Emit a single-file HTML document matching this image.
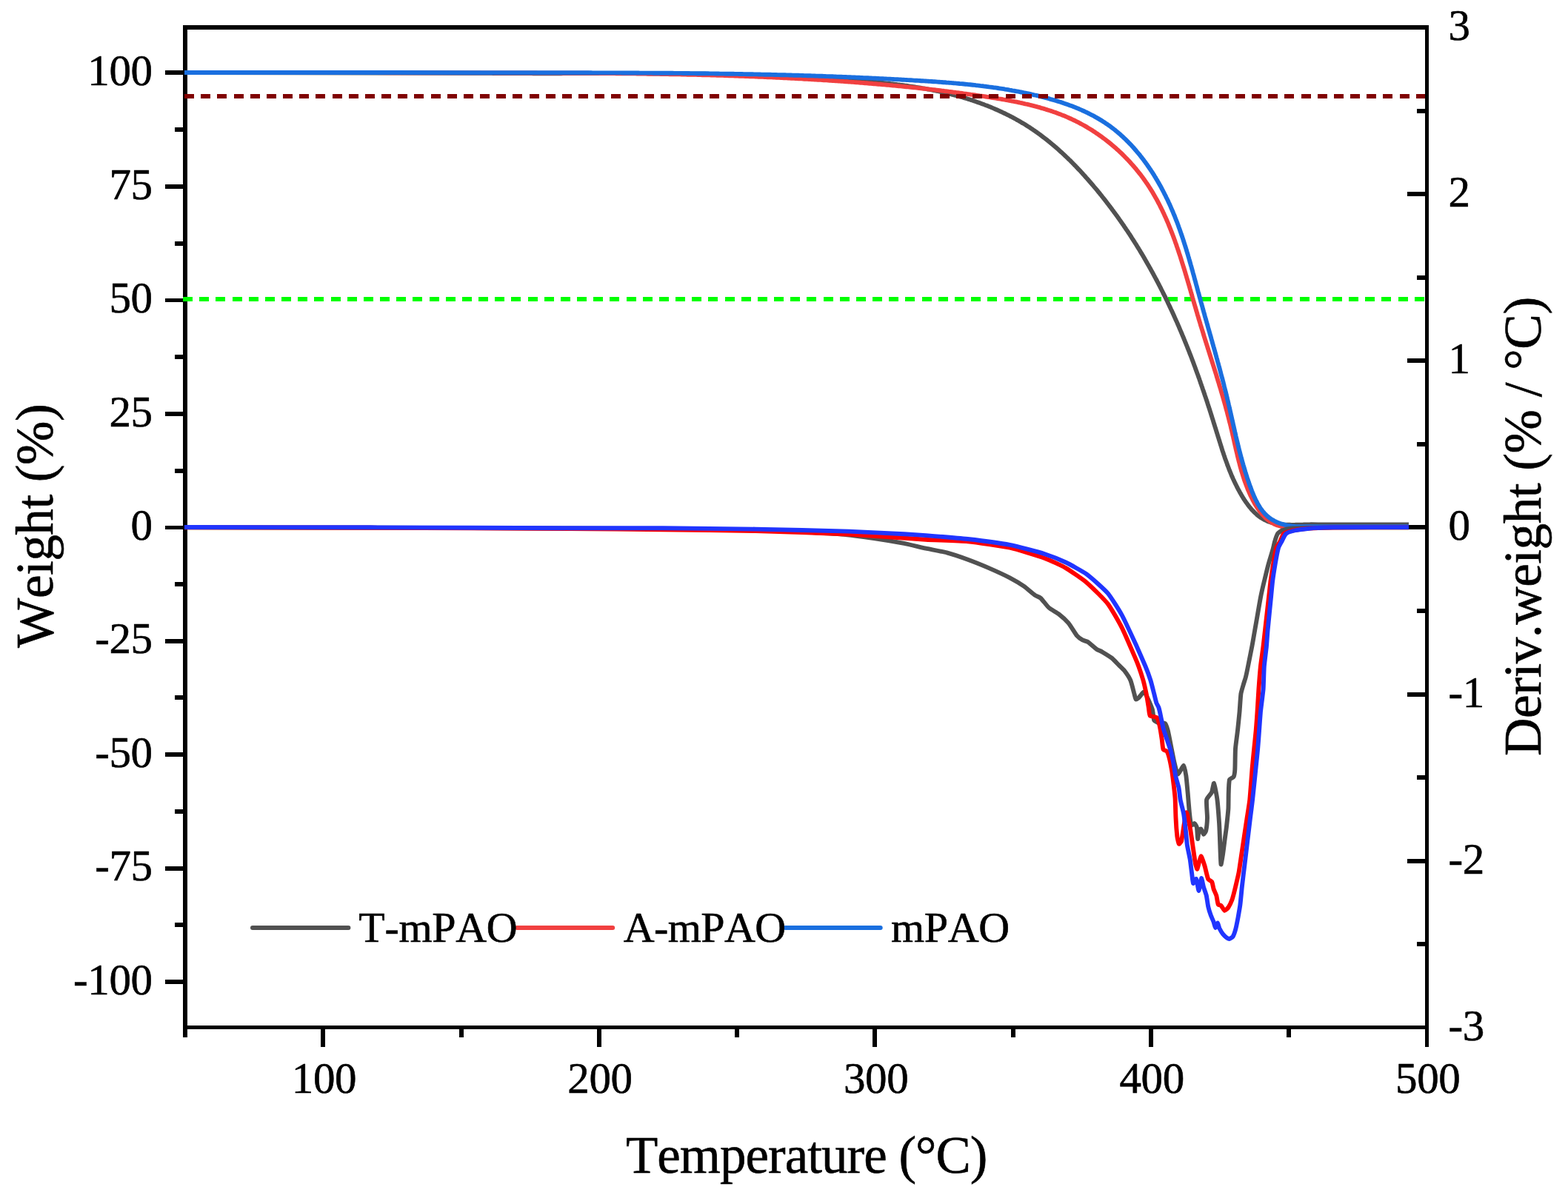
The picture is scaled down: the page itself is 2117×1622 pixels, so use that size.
<!DOCTYPE html>
<html lang="en"><head><meta charset="utf-8"><title>TGA / DTG curves</title>
<style>html,body{margin:0;padding:0;background:#fff;}body{width:2117px;height:1622px;overflow:hidden;}svg{display:block;}</style></head>
<body>
<svg width="2117" height="1622" viewBox="0 0 2117 1622" style="display:block">
<rect width="2117" height="1622" fill="#fff"/>
<g fill="#000" shape-rendering="crispEdges">
<rect x="247" y="34" width="6" height="1367"/>
<rect x="1924" y="34" width="5" height="1380"/>
<rect x="247" y="34" width="1682" height="6"/>
<rect x="247" y="1385" width="1682" height="5"/>
<rect x="223" y="1323" width="24" height="6"/>
<rect x="223" y="1170" width="24" height="6"/>
<rect x="223" y="1016" width="24" height="6"/>
<rect x="223" y="863" width="24" height="6"/>
<rect x="223" y="710" width="24" height="5"/>
<rect x="223" y="556" width="24" height="6"/>
<rect x="223" y="403" width="24" height="5"/>
<rect x="223" y="249" width="24" height="6"/>
<rect x="223" y="95" width="24" height="6"/>
<rect x="236" y="1246" width="11" height="6"/>
<rect x="236" y="1093" width="11" height="6"/>
<rect x="236" y="939" width="11" height="6"/>
<rect x="236" y="786" width="11" height="6"/>
<rect x="236" y="633" width="11" height="6"/>
<rect x="236" y="479" width="11" height="6"/>
<rect x="236" y="326" width="11" height="6"/>
<rect x="236" y="172" width="11" height="6"/>
<rect x="1900" y="1160" width="24" height="6"/>
<rect x="1900" y="935" width="24" height="6"/>
<rect x="1900" y="709" width="24" height="6"/>
<rect x="1900" y="484" width="24" height="6"/>
<rect x="1900" y="259" width="24" height="6"/>
<rect x="1913" y="1272" width="11" height="6"/>
<rect x="1913" y="1047" width="11" height="6"/>
<rect x="1913" y="822" width="11" height="6"/>
<rect x="1913" y="597" width="11" height="6"/>
<rect x="1913" y="372" width="11" height="6"/>
<rect x="1913" y="147" width="11" height="6"/>
<rect x="433" y="1390" width="6" height="24"/>
<rect x="806" y="1390" width="6" height="24"/>
<rect x="1178" y="1390" width="6" height="24"/>
<rect x="1551" y="1390" width="6" height="24"/>
<rect x="620" y="1390" width="6" height="11"/>
<rect x="992" y="1390" width="6" height="11"/>
<rect x="1365" y="1390" width="6" height="11"/>
<rect x="1737" y="1390" width="6" height="11"/>
</g>
<line x1="247.0" y1="404.0" x2="1924" y2="404.0" stroke="#00FF00" stroke-width="6" stroke-dasharray="13 9.17" shape-rendering="crispEdges"/>
<g fill="none" stroke-width="5.9" stroke-linejoin="round" stroke-linecap="butt">
<path stroke="#515151" d="M249.0,98.0L400.0,98.2L529.0,98.5L640.0,98.8L642.0,98.8L644.0,98.8L646.0,98.8L648.0,98.8L650.0,98.9L652.0,98.9L654.0,98.9L656.0,98.9L658.0,98.9L660.0,98.9L662.0,98.9L664.0,98.9L666.0,99.0L668.0,99.0L670.0,99.0L672.0,99.0L674.0,99.0L676.0,99.0L678.0,99.0L680.0,99.0L682.0,99.0L684.0,99.1L686.0,99.1L688.0,99.1L690.0,99.1L692.0,99.1L694.0,99.1L696.0,99.1L698.0,99.1L700.0,99.1L702.0,99.1L704.0,99.1L706.0,99.1L708.0,99.1L710.0,99.1L712.0,99.1L714.0,99.1L716.0,99.1L718.0,99.1L720.0,99.2L722.0,99.2L724.0,99.2L726.0,99.2L728.0,99.2L730.0,99.2L732.0,99.2L734.0,99.2L736.0,99.2L738.0,99.2L740.0,99.2L742.0,99.2L744.0,99.2L746.0,99.2L748.0,99.2L750.0,99.2L752.0,99.2L754.0,99.2L756.0,99.2L758.0,99.2L760.0,99.1L762.0,99.1L764.0,99.1L766.0,99.1L768.0,99.1L770.0,99.1L772.0,99.1L774.0,99.1L776.0,99.1L778.0,99.1L780.0,99.1L782.0,99.1L784.0,99.1L786.0,99.1L788.0,99.1L790.0,99.1L792.0,99.1L794.0,99.1L796.0,99.1L798.0,99.1L800.0,99.1L802.0,99.1L804.0,99.1L806.0,99.1L808.0,99.1L810.0,99.1L812.0,99.1L814.0,99.1L816.0,99.1L818.0,99.1L820.0,99.1L822.1,99.1L824.1,99.1L826.1,99.1L828.1,99.1L830.1,99.1L832.1,99.1L834.1,99.1L836.1,99.1L838.1,99.1L840.1,99.1L842.1,99.1L844.1,99.1L846.1,99.1L848.1,99.1L850.1,99.1L852.1,99.1L854.1,99.1L856.1,99.1L858.1,99.1L860.1,99.1L862.1,99.1L864.1,99.1L866.1,99.1L868.1,99.1L870.1,99.1L872.1,99.1L874.1,99.1L876.1,99.2L878.1,99.2L880.1,99.2L882.1,99.2L884.1,99.2L886.1,99.2L888.1,99.2L890.1,99.2L892.1,99.2L894.1,99.2L896.1,99.2L898.1,99.3L900.1,99.3L902.1,99.3L904.1,99.3L906.1,99.3L908.1,99.3L910.1,99.3L912.1,99.4L914.1,99.4L916.1,99.4L918.1,99.4L920.1,99.4L922.1,99.5L924.1,99.5L926.1,99.5L928.1,99.5L930.1,99.5L932.1,99.6L934.1,99.6L936.1,99.6L938.1,99.6L940.1,99.7L942.1,99.7L944.1,99.7L946.1,99.7L948.1,99.8L950.1,99.8L952.1,99.8L954.1,99.9L956.1,99.9L958.1,99.9L960.1,100.0L962.1,100.0L964.1,100.0L966.1,100.1L968.1,100.1L970.1,100.1L972.1,100.2L974.1,100.2L976.1,100.3L978.1,100.3L980.1,100.3L982.1,100.4L984.1,100.4L986.1,100.5L988.1,100.5L990.1,100.6L992.1,100.6L994.1,100.7L996.1,100.7L998.1,100.8L1000.1,100.8L1002.1,100.9L1004.1,100.9L1006.1,101.0L1008.1,101.0L1010.1,101.1L1012.1,101.1L1014.1,101.2L1016.1,101.3L1018.1,101.3L1020.1,101.4L1022.1,101.5L1024.1,101.5L1026.1,101.6L1028.1,101.6L1030.1,101.7L1032.1,101.8L1034.1,101.9L1036.1,101.9L1038.1,102.0L1040.1,102.1L1042.1,102.1L1044.1,102.2L1046.1,102.3L1048.1,102.4L1050.1,102.5L1052.1,102.5L1054.1,102.6L1056.1,102.7L1058.1,102.8L1060.1,102.9L1062.1,103.0L1064.1,103.1L1066.1,103.2L1068.1,103.2L1070.1,103.3L1072.0,103.4L1074.0,103.5L1076.0,103.6L1078.0,103.7L1080.0,103.8L1082.0,103.9L1084.0,104.0L1086.0,104.1L1088.0,104.2L1090.0,104.3L1092.0,104.5L1094.0,104.6L1096.0,104.7L1098.0,104.8L1100.0,104.9L1102.0,105.0L1104.0,105.1L1106.0,105.3L1108.0,105.4L1109.9,105.5L1111.9,105.6L1113.9,105.7L1115.9,105.9L1117.9,106.0L1119.9,106.1L1121.9,106.3L1123.9,106.4L1125.9,106.5L1127.9,106.7L1129.9,106.8L1131.9,106.9L1133.9,107.1L1135.9,107.2L1137.8,107.4L1139.8,107.5L1141.8,107.7L1143.8,107.8L1145.8,108.0L1147.8,108.1L1149.8,108.3L1151.8,108.4L1153.8,108.6L1155.8,108.7L1157.8,108.9L1159.7,109.1L1161.7,109.2L1163.7,109.4L1165.7,109.6L1167.7,109.7L1169.7,109.9L1171.7,110.1L1173.7,110.3L1175.7,110.4L1177.7,110.6L1179.6,110.8L1181.6,111.0L1183.6,111.2L1185.6,111.4L1187.6,111.6L1189.6,111.8L1191.6,112.0L1193.6,112.2L1195.5,112.4L1197.5,112.6L1199.5,112.8L1201.5,113.0L1203.5,113.3L1205.5,113.5L1207.4,113.7L1209.4,113.9L1211.4,114.2L1213.4,114.4L1215.4,114.7L1217.4,114.9L1219.3,115.2L1221.3,115.5L1223.3,115.7L1225.3,116.0L1227.2,116.3L1229.2,116.6L1231.2,116.9L1233.2,117.2L1235.1,117.5L1237.1,117.8L1239.1,118.1L1241.1,118.4L1243.0,118.7L1245.0,119.1L1247.0,119.4L1248.9,119.7L1250.9,120.1L1252.9,120.5L1254.8,120.8L1256.8,121.2L1258.8,121.6L1260.7,122.0L1262.7,122.4L1264.6,122.8L1266.6,123.2L1268.6,123.6L1270.5,124.0L1272.5,124.5L1274.4,124.9L1276.4,125.4L1278.3,125.9L1280.3,126.3L1282.2,126.8L1284.2,127.3L1286.1,127.8L1288.1,128.3L1290.0,128.8L1292.0,129.3L1293.9,129.9L1295.8,130.4L1297.8,131.0L1299.7,131.5L1301.6,132.1L1303.6,132.7L1305.5,133.3L1307.4,133.9L1309.4,134.5L1311.3,135.1L1313.2,135.8L1315.1,136.4L1317.0,137.0L1318.9,137.7L1320.8,138.4L1322.7,139.0L1324.6,139.7L1326.5,140.4L1328.4,141.1L1330.3,141.9L1332.1,142.6L1334.0,143.3L1335.9,144.1L1337.8,144.8L1339.6,145.6L1341.5,146.4L1343.3,147.2L1345.2,148.0L1347.0,148.8L1348.8,149.6L1350.7,150.5L1352.5,151.3L1354.3,152.2L1356.1,153.0L1357.9,153.9L1359.7,154.8L1361.5,155.7L1363.3,156.6L1365.1,157.5L1366.8,158.4L1368.6,159.4L1370.4,160.3L1372.1,161.3L1373.9,162.3L1375.6,163.3L1377.3,164.2L1379.0,165.3L1380.8,166.3L1382.5,167.3L1384.2,168.3L1385.9,169.4L1387.5,170.5L1389.2,171.5L1390.9,172.6L1392.5,173.7L1394.2,174.8L1395.8,176.0L1397.5,177.1L1399.1,178.2L1400.7,179.4L1402.3,180.5L1403.9,181.7L1405.5,182.9L1407.1,184.1L1408.7,185.3L1410.3,186.5L1411.8,187.7L1413.4,188.9L1415.0,190.2L1416.5,191.4L1418.1,192.7L1419.6,194.0L1421.1,195.2L1422.6,196.5L1424.1,197.8L1425.7,199.1L1427.2,200.4L1428.6,201.7L1430.1,203.1L1431.6,204.4L1433.1,205.7L1434.6,207.1L1436.0,208.4L1437.5,209.8L1438.9,211.2L1440.4,212.6L1441.8,213.9L1443.2,215.3L1444.7,216.7L1446.1,218.1L1447.5,219.5L1448.9,221.0L1450.3,222.4L1451.7,223.8L1453.1,225.3L1454.5,226.7L1455.8,228.2L1457.2,229.6L1458.6,231.1L1459.9,232.5L1461.3,234.0L1462.6,235.5L1464.0,237.0L1465.3,238.5L1466.6,240.0L1468.0,241.5L1469.3,243.0L1470.6,244.5L1471.9,246.0L1473.2,247.5L1474.5,249.0L1475.8,250.5L1477.1,252.1L1478.4,253.6L1479.7,255.1L1481.0,256.7L1482.2,258.2L1483.5,259.8L1484.8,261.3L1486.0,262.9L1487.3,264.4L1488.5,266.0L1489.8,267.6L1491.0,269.1L1492.2,270.7L1493.5,272.3L1494.7,273.9L1495.9,275.5L1497.1,277.1L1498.3,278.7L1499.5,280.2L1500.7,281.8L1501.9,283.5L1503.1,285.1L1504.3,286.7L1505.5,288.3L1506.7,289.9L1507.9,291.5L1509.0,293.1L1510.2,294.8L1511.3,296.4L1512.5,298.0L1513.6,299.7L1514.8,301.3L1515.9,303.0L1517.1,304.6L1518.2,306.3L1519.3,307.9L1520.4,309.6L1521.5,311.2L1522.7,312.9L1523.8,314.6L1524.9,316.2L1526.0,317.9L1527.1,319.6L1528.1,321.3L1529.2,323.0L1530.3,324.6L1531.4,326.3L1532.4,328.0L1533.5,329.7L1534.6,331.4L1535.6,333.1L1536.7,334.8L1537.7,336.5L1538.8,338.2L1539.8,339.9L1540.8,341.7L1541.9,343.4L1542.9,345.1L1543.9,346.8L1544.9,348.5L1545.9,350.3L1546.9,352.0L1547.9,353.7L1548.9,355.5L1549.9,357.2L1550.9,358.9L1551.9,360.7L1552.9,362.4L1553.8,364.2L1554.8,365.9L1555.8,367.7L1556.7,369.4L1557.7,371.2L1558.6,373.0L1559.6,374.7L1560.5,376.5L1561.5,378.3L1562.4,380.0L1563.3,381.8L1564.3,383.6L1565.2,385.4L1566.1,387.1L1567.0,388.9L1567.9,390.7L1568.8,392.5L1569.7,394.3L1570.6,396.1L1571.5,397.9L1572.4,399.7L1573.3,401.4L1574.2,403.2L1575.0,405.0L1575.9,406.8L1576.8,408.6L1577.6,410.5L1578.5,412.3L1579.3,414.1L1580.2,415.9L1581.0,417.7L1581.9,419.5L1582.7,421.3L1583.5,423.1L1584.4,425.0L1585.2,426.8L1586.0,428.6L1586.8,430.4L1587.6,432.2L1588.5,434.1L1589.3,435.9L1590.1,437.7L1590.9,439.6L1591.7,441.4L1592.4,443.2L1593.2,445.1L1594.0,446.9L1594.8,448.7L1595.6,450.6L1596.3,452.4L1597.1,454.2L1597.9,456.1L1598.6,457.9L1599.4,459.8L1600.1,461.6L1600.9,463.5L1601.6,465.3L1602.4,467.2L1603.1,469.0L1603.8,470.9L1604.6,472.7L1605.3,474.6L1606.0,476.4L1606.7,478.3L1607.5,480.1L1608.2,482.0L1608.9,483.8L1609.6,485.7L1610.3,487.6L1611.0,489.4L1611.7,491.3L1612.4,493.2L1613.1,495.0L1613.8,496.9L1614.4,498.8L1615.1,500.6L1615.8,502.5L1616.5,504.4L1617.2,506.2L1617.8,508.1L1618.5,510.0L1619.2,511.8L1619.8,513.7L1620.5,515.6L1621.1,517.5L1621.8,519.4L1622.4,521.2L1623.1,523.1L1623.7,525.0L1624.4,526.9L1625.0,528.8L1625.7,530.7L1626.3,532.5L1626.9,534.4L1627.6,536.3L1628.2,538.2L1628.8,540.1L1629.5,542.0L1630.1,543.9L1630.7,545.8L1631.3,547.7L1631.9,549.6L1632.6,551.5L1633.2,553.4L1633.8,555.3L1634.4,557.2L1635.0,559.1L1635.6,561.0L1636.2,562.9L1636.8,564.8L1637.4,566.7L1638.0,568.7L1638.6,570.6L1639.2,572.5L1639.8,574.4L1640.4,576.3L1641.0,578.2L1641.6,580.2L1642.2,582.1L1642.8,584.0L1643.4,585.9L1644.0,587.8L1644.6,589.8L1645.2,591.7L1645.8,593.6L1646.4,595.5L1647.0,597.5L1647.6,599.4L1648.2,601.3L1648.8,603.2L1649.4,605.2L1650.0,607.1L1650.6,609.0L1651.3,610.9L1651.9,612.8L1652.5,614.7L1653.2,616.6L1653.8,618.5L1654.5,620.4L1655.2,622.3L1655.9,624.2L1656.6,626.1L1657.2,628.0L1658.0,629.9L1658.7,631.8L1659.4,633.7L1660.1,635.5L1660.9,637.4L1661.7,639.3L1662.4,641.1L1663.2,643.0L1664.0,644.8L1664.8,646.7L1665.7,648.5L1666.5,650.3L1667.4,652.1L1668.3,654.0L1669.2,655.8L1670.1,657.6L1671.0,659.4L1671.9,661.1L1672.9,662.9L1673.9,664.7L1674.9,666.4L1675.9,668.2L1676.9,669.9L1678.0,671.7L1679.0,673.4L1680.1,675.1L1681.3,676.8L1682.4,678.5L1683.6,680.1L1684.7,681.7L1686.0,683.3L1687.2,684.9L1688.5,686.4L1689.7,687.9L1691.1,689.3L1692.4,690.7L1693.8,692.1L1695.2,693.4L1696.6,694.7L1698.0,695.9L1699.5,697.1L1701.0,698.2L1702.6,699.3L1704.2,700.3L1705.8,701.2L1707.4,702.1L1709.1,702.9L1710.8,703.7L1712.5,704.4L1714.3,705.0L1716.1,705.6L1717.9,706.1L1719.8,706.5L1721.7,706.9L1723.6,707.3L1725.5,707.6L1727.4,707.9L1729.4,708.1L1731.3,708.3L1733.3,708.5L1735.3,708.6L1737.3,708.7L1739.4,708.8L1741.4,708.8L1743.4,708.9L1745.5,708.9L1747.5,708.9L1749.6,708.8L1751.7,708.8L1753.7,708.8L1755.8,708.7L1757.8,708.6L1759.9,708.6L1762.0,708.5L1764.0,708.5L1766.0,708.4L1768.1,708.4L1770.1,708.3L1792.0,708.4L1760.0,708.4L1830.0,708.4L1902.0,708.4"/>
<path stroke="#F14040" d="M249.0,98.0L400.0,98.0L529.0,98.2L640.0,98.4L642.0,98.4L644.0,98.4L646.0,98.4L648.0,98.4L650.0,98.4L652.0,98.4L654.0,98.4L656.0,98.4L658.0,98.4L660.0,98.4L662.0,98.4L664.0,98.4L666.0,98.4L668.0,98.5L670.0,98.5L672.0,98.5L674.0,98.5L676.0,98.5L678.0,98.5L680.0,98.5L682.0,98.5L684.0,98.5L686.0,98.5L688.0,98.5L690.0,98.5L692.0,98.5L694.0,98.5L696.1,98.5L698.1,98.5L700.1,98.5L702.1,98.5L704.1,98.5L706.1,98.5L708.1,98.5L710.1,98.5L712.1,98.5L714.1,98.5L716.1,98.5L718.1,98.5L720.1,98.5L722.1,98.5L724.1,98.5L726.1,98.6L728.1,98.6L730.1,98.6L732.1,98.6L734.1,98.6L736.1,98.6L738.1,98.6L740.1,98.6L742.1,98.6L744.1,98.6L746.1,98.6L748.1,98.6L750.1,98.6L752.1,98.6L754.1,98.6L756.1,98.6L758.1,98.7L760.1,98.7L762.1,98.7L764.1,98.7L766.1,98.7L768.1,98.7L770.1,98.7L772.1,98.7L774.1,98.7L776.1,98.7L778.1,98.7L780.1,98.8L782.1,98.8L784.1,98.8L786.1,98.8L788.1,98.8L790.1,98.8L792.1,98.8L794.1,98.8L796.1,98.9L798.1,98.9L800.1,98.9L802.1,98.9L804.1,98.9L806.1,98.9L808.1,98.9L810.1,99.0L812.1,99.0L814.1,99.0L816.1,99.0L818.1,99.0L820.1,99.0L822.1,99.1L824.1,99.1L826.1,99.1L828.1,99.1L830.1,99.1L832.1,99.2L834.1,99.2L836.1,99.2L838.1,99.2L840.1,99.2L842.1,99.3L844.1,99.3L846.1,99.3L848.1,99.3L850.1,99.3L852.1,99.4L854.1,99.4L856.1,99.4L858.1,99.4L860.1,99.5L862.1,99.5L864.1,99.5L866.1,99.6L868.1,99.6L870.1,99.6L872.1,99.6L874.1,99.7L876.1,99.7L878.1,99.7L880.1,99.8L882.1,99.8L884.1,99.8L886.1,99.9L888.1,99.9L890.1,99.9L892.1,100.0L894.1,100.0L896.1,100.0L898.1,100.1L900.1,100.1L902.1,100.1L904.1,100.2L906.1,100.2L908.1,100.2L910.1,100.3L912.1,100.3L914.1,100.4L916.1,100.4L918.1,100.4L920.1,100.5L922.1,100.5L924.1,100.6L926.1,100.6L928.1,100.7L930.1,100.7L932.1,100.8L934.1,100.8L936.1,100.9L938.1,100.9L940.1,100.9L942.1,101.0L944.1,101.0L946.1,101.1L948.1,101.2L950.1,101.2L952.1,101.3L954.1,101.3L956.1,101.4L958.1,101.4L960.1,101.5L962.1,101.5L964.1,101.6L966.1,101.6L968.1,101.7L970.1,101.8L972.1,101.8L974.1,101.9L976.1,101.9L978.1,102.0L980.1,102.1L982.1,102.1L984.1,102.2L986.1,102.3L988.1,102.3L990.1,102.4L992.1,102.5L994.1,102.5L996.1,102.6L998.1,102.7L1000.1,102.7L1002.1,102.8L1004.1,102.9L1006.1,103.0L1008.1,103.0L1010.1,103.1L1012.1,103.2L1014.1,103.3L1016.1,103.3L1018.1,103.4L1020.1,103.5L1022.1,103.6L1024.1,103.7L1026.1,103.8L1028.1,103.8L1030.1,103.9L1032.1,104.0L1034.1,104.1L1036.1,104.2L1038.1,104.3L1040.1,104.4L1042.1,104.4L1044.1,104.5L1046.1,104.6L1048.1,104.7L1050.1,104.8L1052.1,104.9L1054.1,105.0L1056.1,105.1L1058.1,105.2L1060.1,105.3L1062.1,105.4L1064.1,105.5L1066.1,105.6L1068.1,105.7L1070.1,105.8L1072.1,105.9L1074.1,106.0L1076.1,106.1L1078.1,106.2L1080.1,106.3L1082.1,106.4L1084.1,106.5L1086.1,106.7L1088.1,106.8L1090.1,106.9L1092.1,107.0L1094.1,107.1L1096.1,107.2L1098.1,107.3L1100.1,107.5L1102.1,107.6L1104.1,107.7L1106.1,107.8L1108.1,107.9L1110.1,108.1L1112.1,108.2L1114.1,108.3L1116.1,108.4L1118.1,108.6L1120.1,108.7L1122.1,108.8L1124.1,109.0L1126.1,109.1L1128.1,109.2L1130.1,109.4L1132.0,109.5L1134.0,109.6L1136.0,109.8L1138.0,109.9L1140.0,110.1L1142.0,110.2L1144.0,110.3L1146.0,110.5L1148.0,110.6L1150.0,110.8L1152.0,110.9L1154.0,111.1L1156.0,111.2L1158.0,111.4L1160.0,111.5L1162.0,111.7L1164.0,111.9L1166.0,112.0L1168.0,112.2L1170.0,112.3L1172.0,112.5L1174.0,112.7L1175.9,112.8L1177.9,113.0L1179.9,113.2L1181.9,113.3L1183.9,113.5L1185.9,113.7L1187.9,113.8L1189.9,114.0L1191.9,114.2L1193.8,114.4L1195.8,114.5L1197.8,114.7L1199.8,114.9L1201.8,115.1L1203.8,115.3L1205.8,115.5L1207.7,115.6L1209.7,115.8L1211.7,116.0L1213.7,116.2L1215.7,116.4L1217.7,116.6L1219.6,116.8L1221.6,117.0L1223.6,117.2L1225.6,117.4L1227.6,117.6L1229.5,117.8L1231.5,118.0L1233.5,118.2L1235.5,118.4L1237.5,118.6L1239.4,118.8L1241.4,119.1L1243.4,119.3L1245.4,119.5L1247.3,119.7L1249.3,119.9L1251.3,120.2L1253.3,120.4L1255.3,120.6L1257.2,120.8L1259.2,121.1L1261.2,121.3L1263.2,121.5L1265.1,121.8L1267.1,122.0L1269.1,122.2L1271.1,122.5L1273.1,122.7L1275.0,123.0L1277.0,123.2L1279.0,123.4L1281.0,123.7L1283.0,123.9L1284.9,124.2L1286.9,124.5L1288.9,124.7L1290.9,125.0L1292.9,125.2L1294.9,125.5L1296.8,125.8L1298.8,126.0L1300.8,126.3L1302.8,126.6L1304.8,126.8L1306.8,127.1L1308.8,127.4L1310.7,127.7L1312.7,127.9L1314.7,128.2L1316.7,128.5L1318.7,128.8L1320.7,129.1L1322.7,129.4L1324.7,129.6L1326.7,129.9L1328.7,130.2L1330.7,130.5L1332.7,130.8L1334.6,131.1L1336.6,131.4L1338.6,131.8L1340.6,132.1L1342.6,132.4L1344.6,132.7L1346.6,133.0L1348.6,133.4L1350.6,133.7L1352.6,134.0L1354.6,134.4L1356.6,134.7L1358.6,135.1L1360.6,135.4L1362.6,135.8L1364.5,136.2L1366.5,136.6L1368.5,136.9L1370.5,137.3L1372.5,137.7L1374.4,138.1L1376.4,138.5L1378.4,139.0L1380.4,139.4L1382.3,139.8L1384.3,140.3L1386.2,140.7L1388.2,141.2L1390.2,141.7L1392.1,142.1L1394.1,142.6L1396.0,143.1L1397.9,143.6L1399.9,144.1L1401.8,144.7L1403.7,145.2L1405.7,145.8L1407.6,146.3L1409.5,146.9L1411.4,147.5L1413.3,148.1L1415.2,148.7L1417.1,149.3L1419.0,149.9L1420.9,150.5L1422.8,151.2L1424.7,151.8L1426.5,152.5L1428.4,153.2L1430.3,153.9L1432.1,154.6L1434.0,155.4L1435.8,156.1L1437.7,156.8L1439.5,157.6L1441.3,158.4L1443.1,159.2L1444.9,160.0L1446.7,160.8L1448.5,161.7L1450.3,162.5L1452.1,163.4L1453.9,164.3L1455.7,165.2L1457.4,166.1L1459.2,167.1L1460.9,168.0L1462.7,169.0L1464.4,169.9L1466.1,170.9L1467.8,171.9L1469.5,173.0L1471.2,174.0L1472.9,175.0L1474.6,176.1L1476.3,177.2L1478.0,178.3L1479.6,179.4L1481.3,180.5L1482.9,181.6L1484.5,182.8L1486.2,183.9L1487.8,185.1L1489.4,186.3L1491.0,187.5L1492.6,188.7L1494.1,189.9L1495.7,191.1L1497.3,192.4L1498.8,193.6L1500.4,194.9L1501.9,196.2L1503.4,197.5L1504.9,198.8L1506.4,200.1L1507.9,201.4L1509.4,202.7L1510.9,204.1L1512.3,205.5L1513.8,206.8L1515.2,208.2L1516.6,209.6L1518.0,211.0L1519.4,212.5L1520.8,213.9L1522.2,215.3L1523.6,216.8L1525.0,218.2L1526.3,219.7L1527.6,221.2L1529.0,222.7L1530.3,224.2L1531.6,225.7L1532.9,227.3L1534.2,228.8L1535.4,230.3L1536.7,231.9L1537.9,233.5L1539.2,235.0L1540.4,236.6L1541.6,238.2L1542.8,239.8L1544.0,241.4L1545.1,243.1L1546.3,244.7L1547.4,246.3L1548.6,248.0L1549.7,249.6L1550.8,251.3L1551.9,253.0L1552.9,254.7L1554.0,256.4L1555.1,258.1L1556.1,259.8L1557.1,261.5L1558.1,263.2L1559.1,264.9L1560.1,266.7L1561.1,268.4L1562.1,270.2L1563.0,271.9L1563.9,273.7L1564.9,275.5L1565.8,277.3L1566.7,279.1L1567.6,280.9L1568.5,282.7L1569.4,284.5L1570.2,286.3L1571.1,288.1L1571.9,289.9L1572.7,291.7L1573.6,293.6L1574.4,295.4L1575.2,297.2L1576.0,299.1L1576.8,300.9L1577.6,302.8L1578.3,304.7L1579.1,306.5L1579.8,308.4L1580.6,310.3L1581.3,312.1L1582.0,314.0L1582.8,315.9L1583.5,317.8L1584.2,319.6L1584.9,321.5L1585.6,323.4L1586.3,325.3L1586.9,327.2L1587.6,329.1L1588.3,331.0L1588.9,332.9L1589.6,334.8L1590.2,336.7L1590.9,338.6L1591.5,340.5L1592.1,342.4L1592.8,344.3L1593.4,346.2L1594.0,348.1L1594.6,350.0L1595.2,352.0L1595.8,353.9L1596.4,355.8L1597.0,357.7L1597.6,359.6L1598.2,361.5L1598.8,363.4L1599.4,365.3L1600.0,367.3L1600.5,369.2L1601.1,371.1L1601.7,373.0L1602.2,374.9L1602.8,376.8L1603.4,378.8L1603.9,380.7L1604.5,382.6L1605.1,384.5L1605.6,386.4L1606.2,388.4L1606.7,390.3L1607.3,392.2L1607.8,394.1L1608.4,396.0L1608.9,397.9L1609.5,399.9L1610.0,401.8L1610.6,403.7L1611.1,405.6L1611.7,407.5L1612.2,409.4L1612.8,411.4L1613.4,413.3L1613.9,415.2L1614.5,417.1L1615.0,419.0L1615.6,420.9L1616.2,422.8L1616.7,424.8L1617.3,426.7L1617.9,428.6L1618.4,430.5L1619.0,432.4L1619.6,434.3L1620.2,436.2L1620.7,438.1L1621.3,440.0L1621.9,441.9L1622.5,443.8L1623.1,445.7L1623.7,447.6L1624.3,449.5L1624.8,451.4L1625.4,453.4L1626.0,455.3L1626.6,457.2L1627.2,459.1L1627.8,461.0L1628.4,462.9L1629.0,464.8L1629.6,466.7L1630.2,468.6L1630.8,470.5L1631.4,472.4L1632.0,474.3L1632.6,476.2L1633.2,478.1L1633.8,480.0L1634.4,481.9L1635.0,483.8L1635.6,485.7L1636.2,487.6L1636.8,489.5L1637.4,491.4L1638.0,493.3L1638.6,495.2L1639.2,497.1L1639.8,499.0L1640.4,500.9L1641.0,502.8L1641.6,504.7L1642.2,506.6L1642.7,508.5L1643.3,510.4L1643.9,512.3L1644.5,514.3L1645.1,516.2L1645.7,518.1L1646.2,520.0L1646.8,521.9L1647.4,523.8L1648.0,525.7L1648.5,527.6L1649.1,529.6L1649.7,531.5L1650.2,533.4L1650.8,535.3L1651.3,537.2L1651.9,539.2L1652.4,541.1L1653.0,543.0L1653.5,544.9L1654.1,546.9L1654.6,548.8L1655.1,550.7L1655.6,552.7L1656.2,554.6L1656.7,556.5L1657.2,558.5L1657.7,560.4L1658.2,562.4L1658.7,564.3L1659.2,566.3L1659.7,568.2L1660.2,570.2L1660.7,572.1L1661.2,574.1L1661.7,576.0L1662.1,578.0L1662.6,579.9L1663.1,581.9L1663.5,583.8L1664.0,585.8L1664.4,587.8L1664.9,589.7L1665.3,591.7L1665.8,593.7L1666.2,595.6L1666.6,597.6L1667.1,599.6L1667.5,601.6L1668.0,603.5L1668.4,605.5L1668.9,607.5L1669.3,609.4L1669.8,611.4L1670.3,613.4L1670.7,615.3L1671.2,617.3L1671.7,619.2L1672.2,621.2L1672.7,623.2L1673.2,625.1L1673.7,627.1L1674.2,629.0L1674.7,630.9L1675.3,632.9L1675.8,634.8L1676.4,636.8L1677.0,638.7L1677.6,640.6L1678.2,642.5L1678.8,644.5L1679.4,646.4L1680.0,648.3L1680.7,650.2L1681.4,652.1L1682.1,654.0L1682.8,655.8L1683.5,657.7L1684.2,659.6L1685.0,661.5L1685.8,663.3L1686.6,665.2L1687.4,667.0L1688.2,668.9L1689.1,670.7L1690.0,672.5L1690.9,674.3L1691.8,676.1L1692.8,677.9L1693.8,679.7L1694.8,681.4L1695.8,683.1L1696.9,684.8L1698.0,686.5L1699.1,688.1L1700.2,689.7L1701.4,691.3L1702.6,692.8L1703.8,694.3L1705.1,695.7L1706.4,697.1L1707.7,698.5L1709.0,699.8L1710.4,701.0L1711.9,702.2L1713.3,703.3L1714.8,704.4L1716.3,705.4L1717.9,706.4L1719.5,707.2L1721.1,708.1L1722.8,708.8L1724.5,709.5L1726.3,710.0L1728.1,710.5L1729.9,711.0L1731.8,711.4L1733.7,711.7L1735.6,711.9L1737.5,712.1L1739.5,712.3L1741.5,712.4L1743.5,712.5L1745.5,712.5L1747.5,712.5L1749.6,712.5L1751.6,712.5L1753.7,712.4L1755.7,712.4L1757.8,712.3L1759.9,712.2L1761.9,712.2L1764.0,712.1L1766.0,712.1L1768.0,712.0L1770.0,712.0L1792.0,712.0L1760.0,712.0L1830.0,712.0L1902.0,712.0"/>
<path stroke="#1A6FDF" d="M249.0,98.0L400.0,98.0L529.0,98.0L640.0,98.2L642.0,98.2L644.0,98.2L646.0,98.2L648.0,98.2L650.0,98.2L652.0,98.2L654.0,98.3L656.0,98.3L658.0,98.3L660.0,98.3L662.0,98.3L664.0,98.3L666.0,98.3L668.0,98.3L670.0,98.3L672.0,98.3L674.0,98.3L676.0,98.3L678.0,98.3L680.0,98.3L682.0,98.3L684.0,98.3L686.0,98.3L688.0,98.3L690.0,98.3L692.0,98.3L694.0,98.3L696.0,98.3L698.0,98.3L700.0,98.3L702.0,98.3L704.0,98.3L706.0,98.3L708.0,98.3L710.0,98.3L712.0,98.3L714.0,98.3L716.0,98.3L718.0,98.3L720.0,98.3L722.0,98.3L724.0,98.3L726.0,98.3L728.0,98.3L730.0,98.3L732.0,98.3L734.0,98.3L736.0,98.3L738.0,98.3L740.0,98.3L742.0,98.3L744.0,98.3L746.0,98.3L748.0,98.3L750.0,98.3L752.0,98.3L754.0,98.3L756.0,98.3L758.0,98.3L760.0,98.3L762.0,98.3L764.0,98.3L766.0,98.3L768.0,98.3L770.0,98.3L772.0,98.3L774.0,98.3L776.0,98.3L778.0,98.3L780.0,98.3L782.0,98.3L784.0,98.3L786.0,98.3L788.0,98.3L790.0,98.3L792.0,98.3L794.0,98.3L796.0,98.3L798.0,98.3L800.0,98.4L802.0,98.4L804.0,98.4L806.0,98.4L808.0,98.4L810.0,98.4L812.0,98.4L814.0,98.4L816.0,98.4L818.0,98.4L820.0,98.4L822.0,98.4L824.0,98.4L826.0,98.4L828.0,98.4L830.0,98.4L832.0,98.4L834.0,98.4L836.0,98.4L838.0,98.4L840.0,98.5L842.0,98.5L844.0,98.5L846.0,98.5L848.0,98.5L850.0,98.5L852.0,98.5L854.0,98.5L856.0,98.5L858.0,98.5L860.0,98.5L862.0,98.5L864.0,98.6L866.0,98.6L868.0,98.6L870.0,98.6L872.1,98.6L874.1,98.6L876.1,98.6L878.1,98.6L880.1,98.6L882.1,98.7L884.1,98.7L886.1,98.7L888.1,98.7L890.1,98.7L892.1,98.7L894.1,98.7L896.1,98.7L898.1,98.8L900.1,98.8L902.1,98.8L904.1,98.8L906.1,98.8L908.1,98.8L910.1,98.9L912.1,98.9L914.1,98.9L916.1,98.9L918.1,98.9L920.1,98.9L922.1,99.0L924.1,99.0L926.1,99.0L928.1,99.0L930.1,99.0L932.1,99.1L934.1,99.1L936.1,99.1L938.1,99.1L940.1,99.2L942.1,99.2L944.1,99.2L946.1,99.2L948.1,99.2L950.1,99.3L952.1,99.3L954.1,99.3L956.1,99.3L958.1,99.4L960.1,99.4L962.1,99.4L964.1,99.4L966.1,99.5L968.1,99.5L970.1,99.5L972.1,99.6L974.1,99.6L976.1,99.6L978.1,99.6L980.1,99.7L982.1,99.7L984.1,99.7L986.1,99.8L988.1,99.8L990.1,99.8L992.1,99.9L994.1,99.9L996.1,99.9L998.1,100.0L1000.1,100.0L1002.1,100.0L1004.1,100.1L1006.1,100.1L1008.1,100.2L1010.1,100.2L1012.1,100.2L1014.1,100.3L1016.1,100.3L1018.1,100.4L1020.1,100.4L1022.1,100.4L1024.1,100.5L1026.1,100.5L1028.1,100.6L1030.1,100.6L1032.1,100.7L1034.1,100.7L1036.1,100.7L1038.1,100.8L1040.1,100.8L1042.0,100.9L1044.0,100.9L1046.0,101.0L1048.0,101.0L1050.0,101.1L1052.0,101.1L1054.0,101.2L1056.0,101.2L1058.0,101.3L1060.0,101.3L1062.0,101.4L1064.0,101.4L1066.0,101.5L1068.0,101.5L1070.0,101.6L1072.0,101.7L1074.0,101.7L1076.0,101.8L1078.0,101.8L1080.0,101.9L1082.0,101.9L1084.0,102.0L1086.0,102.1L1088.0,102.1L1090.0,102.2L1092.0,102.2L1094.0,102.3L1096.0,102.4L1098.0,102.4L1100.0,102.5L1102.0,102.6L1104.0,102.6L1106.0,102.7L1108.0,102.8L1110.0,102.8L1112.0,102.9L1114.0,103.0L1116.0,103.1L1118.0,103.1L1120.0,103.2L1122.0,103.3L1124.0,103.3L1126.0,103.4L1128.0,103.5L1130.0,103.6L1132.0,103.6L1134.0,103.7L1136.0,103.8L1138.0,103.9L1140.0,104.0L1142.0,104.0L1144.0,104.1L1146.0,104.2L1148.0,104.3L1150.0,104.4L1152.0,104.4L1154.0,104.5L1156.0,104.6L1158.0,104.7L1160.0,104.8L1162.0,104.9L1164.0,105.0L1166.0,105.1L1168.0,105.1L1170.0,105.2L1172.0,105.3L1174.0,105.4L1176.0,105.5L1178.0,105.6L1180.0,105.7L1182.0,105.8L1184.0,105.9L1186.0,106.0L1188.0,106.1L1190.0,106.2L1192.0,106.3L1194.0,106.4L1196.0,106.5L1198.0,106.6L1200.0,106.7L1202.0,106.8L1204.0,106.9L1206.0,107.0L1208.0,107.1L1210.0,107.2L1212.0,107.3L1214.0,107.4L1216.0,107.5L1218.0,107.7L1220.0,107.8L1222.0,107.9L1224.0,108.0L1226.0,108.1L1228.0,108.2L1230.0,108.3L1231.9,108.4L1233.9,108.6L1235.9,108.7L1237.9,108.8L1239.9,108.9L1241.9,109.0L1243.9,109.2L1245.9,109.3L1247.9,109.4L1249.9,109.5L1251.9,109.6L1253.9,109.8L1255.9,109.9L1257.9,110.0L1259.9,110.2L1261.9,110.3L1263.9,110.4L1265.9,110.6L1267.9,110.7L1269.8,110.9L1271.8,111.0L1273.8,111.2L1275.8,111.3L1277.8,111.5L1279.8,111.6L1281.8,111.8L1283.8,111.9L1285.8,112.1L1287.8,112.3L1289.8,112.4L1291.7,112.6L1293.7,112.8L1295.7,113.0L1297.7,113.1L1299.7,113.3L1301.7,113.5L1303.7,113.7L1305.7,113.9L1307.6,114.1L1309.6,114.3L1311.6,114.5L1313.6,114.7L1315.6,114.9L1317.6,115.2L1319.5,115.4L1321.5,115.6L1323.5,115.9L1325.5,116.1L1327.5,116.3L1329.5,116.6L1331.4,116.8L1333.4,117.1L1335.4,117.4L1337.4,117.6L1339.4,117.9L1341.3,118.2L1343.3,118.4L1345.3,118.7L1347.3,119.0L1349.2,119.3L1351.2,119.6L1353.2,119.9L1355.2,120.2L1357.1,120.6L1359.1,120.9L1361.1,121.2L1363.1,121.6L1365.0,121.9L1367.0,122.3L1369.0,122.6L1370.9,123.0L1372.9,123.3L1374.9,123.7L1376.8,124.1L1378.8,124.5L1380.8,124.9L1382.7,125.3L1384.7,125.7L1386.7,126.1L1388.6,126.5L1390.6,126.9L1392.6,127.4L1394.5,127.8L1396.5,128.3L1398.4,128.7L1400.4,129.2L1402.4,129.7L1404.3,130.2L1406.3,130.6L1408.2,131.1L1410.2,131.6L1412.1,132.2L1414.1,132.7L1416.0,133.2L1418.0,133.8L1419.9,134.3L1421.9,134.9L1423.8,135.4L1425.7,136.0L1427.7,136.6L1429.6,137.2L1431.5,137.8L1433.4,138.4L1435.3,139.1L1437.2,139.7L1439.1,140.4L1441.0,141.0L1442.9,141.7L1444.8,142.4L1446.7,143.1L1448.6,143.8L1450.4,144.6L1452.3,145.3L1454.1,146.1L1456.0,146.8L1457.8,147.6L1459.7,148.4L1461.5,149.2L1463.3,150.0L1465.1,150.9L1466.9,151.7L1468.7,152.6L1470.5,153.5L1472.2,154.4L1474.0,155.3L1475.8,156.2L1477.5,157.1L1479.2,158.1L1481.0,159.1L1482.7,160.1L1484.4,161.1L1486.1,162.1L1487.8,163.1L1489.4,164.2L1491.1,165.3L1492.7,166.4L1494.4,167.5L1496.0,168.6L1497.6,169.7L1499.2,170.9L1500.8,172.1L1502.4,173.3L1503.9,174.5L1505.5,175.7L1507.0,177.0L1508.5,178.2L1510.0,179.5L1511.5,180.8L1513.0,182.1L1514.5,183.5L1516.0,184.8L1517.4,186.2L1518.9,187.5L1520.3,188.9L1521.7,190.3L1523.1,191.7L1524.5,193.2L1525.9,194.6L1527.3,196.1L1528.6,197.5L1530.0,199.0L1531.3,200.5L1532.6,202.0L1533.9,203.5L1535.2,205.1L1536.5,206.6L1537.8,208.1L1539.1,209.7L1540.3,211.3L1541.6,212.9L1542.8,214.5L1544.0,216.1L1545.2,217.7L1546.4,219.3L1547.6,221.0L1548.8,222.6L1549.9,224.3L1551.1,225.9L1552.2,227.6L1553.4,229.3L1554.5,231.0L1555.6,232.7L1556.7,234.4L1557.8,236.1L1558.8,237.8L1559.9,239.5L1560.9,241.3L1562.0,243.0L1563.0,244.8L1564.0,246.5L1565.0,248.3L1566.0,250.1L1567.0,251.8L1568.0,253.6L1568.9,255.4L1569.9,257.2L1570.8,259.0L1571.7,260.8L1572.6,262.6L1573.6,264.4L1574.4,266.2L1575.3,268.0L1576.2,269.8L1577.1,271.6L1577.9,273.5L1578.8,275.3L1579.6,277.1L1580.4,278.9L1581.2,280.8L1582.0,282.6L1582.8,284.5L1583.6,286.3L1584.3,288.1L1585.1,290.0L1585.9,291.8L1586.6,293.7L1587.3,295.5L1588.0,297.4L1588.8,299.2L1589.5,301.1L1590.2,303.0L1590.9,304.8L1591.5,306.7L1592.2,308.6L1592.9,310.4L1593.5,312.3L1594.2,314.2L1594.8,316.1L1595.5,317.9L1596.1,319.8L1596.8,321.7L1597.4,323.6L1598.0,325.5L1598.6,327.4L1599.2,329.3L1599.8,331.1L1600.4,333.0L1601.0,334.9L1601.6,336.8L1602.1,338.7L1602.7,340.6L1603.3,342.5L1603.9,344.4L1604.4,346.3L1605.0,348.2L1605.5,350.1L1606.1,352.0L1606.6,354.0L1607.2,355.9L1607.7,357.8L1608.3,359.7L1608.8,361.6L1609.3,363.5L1609.9,365.4L1610.4,367.4L1610.9,369.3L1611.5,371.2L1612.0,373.1L1612.5,375.0L1613.0,377.0L1613.6,378.9L1614.1,380.8L1614.6,382.7L1615.1,384.6L1615.7,386.6L1616.2,388.5L1616.7,390.4L1617.2,392.4L1617.7,394.3L1618.3,396.2L1618.8,398.1L1619.3,400.1L1619.9,402.0L1620.4,403.9L1620.9,405.9L1621.4,407.8L1622.0,409.7L1622.5,411.7L1623.1,413.6L1623.6,415.5L1624.1,417.5L1624.7,419.4L1625.2,421.3L1625.8,423.3L1626.3,425.2L1626.8,427.1L1627.4,429.1L1627.9,431.0L1628.5,432.9L1629.0,434.9L1629.6,436.8L1630.1,438.7L1630.7,440.7L1631.2,442.6L1631.8,444.6L1632.3,446.5L1632.9,448.4L1633.4,450.4L1634.0,452.3L1634.5,454.2L1635.1,456.2L1635.6,458.1L1636.2,460.1L1636.7,462.0L1637.2,463.9L1637.8,465.9L1638.3,467.8L1638.9,469.7L1639.4,471.7L1640.0,473.6L1640.5,475.5L1641.0,477.5L1641.6,479.4L1642.1,481.3L1642.6,483.3L1643.2,485.2L1643.7,487.2L1644.2,489.1L1644.8,491.0L1645.3,493.0L1645.8,494.9L1646.4,496.8L1646.9,498.8L1647.4,500.7L1647.9,502.6L1648.4,504.6L1648.9,506.5L1649.4,508.4L1650.0,510.3L1650.5,512.3L1651.0,514.2L1651.5,516.1L1652.0,518.1L1652.5,520.0L1652.9,521.9L1653.4,523.9L1653.9,525.8L1654.4,527.7L1654.9,529.6L1655.4,531.6L1655.8,533.5L1656.3,535.4L1656.8,537.3L1657.2,539.2L1657.7,541.2L1658.1,543.1L1658.6,545.0L1659.0,546.9L1659.5,548.9L1659.9,550.8L1660.4,552.7L1660.8,554.6L1661.2,556.5L1661.7,558.4L1662.1,560.4L1662.5,562.3L1663.0,564.2L1663.4,566.1L1663.8,568.0L1664.3,569.9L1664.7,571.9L1665.1,573.8L1665.6,575.7L1666.0,577.6L1666.4,579.5L1666.9,581.5L1667.3,583.4L1667.8,585.3L1668.2,587.2L1668.6,589.1L1669.1,591.1L1669.5,593.0L1670.0,594.9L1670.5,596.8L1670.9,598.8L1671.4,600.7L1671.9,602.6L1672.3,604.5L1672.8,606.5L1673.3,608.4L1673.8,610.3L1674.3,612.3L1674.8,614.2L1675.3,616.1L1675.8,618.1L1676.4,620.0L1676.9,622.0L1677.4,623.9L1678.0,625.8L1678.5,627.8L1679.1,629.7L1679.7,631.7L1680.3,633.6L1680.8,635.6L1681.4,637.5L1682.1,639.5L1682.7,641.5L1683.3,643.4L1683.9,645.4L1684.6,647.4L1685.3,649.3L1685.9,651.3L1686.6,653.3L1687.3,655.2L1688.0,657.2L1688.8,659.2L1689.5,661.2L1690.2,663.1L1691.0,665.1L1691.8,667.0L1692.6,669.0L1693.5,670.9L1694.3,672.8L1695.2,674.7L1696.1,676.5L1697.1,678.3L1698.0,680.1L1699.0,681.9L1700.1,683.6L1701.1,685.3L1702.2,686.9L1703.4,688.5L1704.5,690.0L1705.7,691.5L1707.0,693.0L1708.3,694.4L1709.6,695.7L1711.0,697.0L1712.4,698.2L1713.9,699.3L1715.4,700.4L1717.0,701.5L1718.6,702.4L1720.2,703.3L1721.8,704.2L1723.5,705.0L1725.3,705.7L1727.0,706.4L1728.8,707.1L1730.6,707.7L1732.5,708.2L1734.3,708.7L1736.2,709.2L1738.1,709.6L1740.0,709.9L1742.0,710.2L1743.9,710.5L1745.9,710.7L1747.9,710.9L1749.9,711.1L1751.9,711.2L1753.9,711.3L1755.9,711.3L1757.9,711.3L1759.9,711.3L1761.9,711.3L1764.0,711.3L1766.0,711.3L1768.0,711.3L1770.0,711.3L1792.0,711.2L1760.0,711.2L1830.0,711.2L1902.0,711.2"/>
<path stroke="#515151" d="M249.0,712.4C295.0,712.5 454.0,712.7 500.0,712.8C549.5,712.9 720.5,713.2 770.0,713.5C815.8,713.7 974.2,714.5 1020.0,715.5C1041.2,716.0 1114.4,720.0 1135.5,721.5C1143.7,722.1 1171.9,725.8 1180.0,727.0C1187.5,728.1 1213.3,732.4 1220.7,733.8C1226.1,734.9 1244.6,739.4 1250.0,740.6C1255.2,741.7 1273.2,744.9 1278.3,746.3C1283.6,747.7 1301.6,753.8 1306.7,755.7C1311.9,757.6 1329.9,764.9 1335.0,767.1C1340.3,769.4 1358.3,777.7 1363.4,780.3C1367.0,782.2 1379.0,789.3 1382.3,791.6C1385.2,793.6 1394.5,801.8 1397.4,803.9C1398.7,804.8 1403.9,806.7 1405.0,807.7C1407.3,809.8 1413.9,818.8 1416.3,820.9C1418.4,822.8 1427.2,827.6 1429.5,829.4C1432.1,831.4 1440.6,839.2 1442.7,841.7C1445.1,844.6 1451.7,855.8 1454.1,858.7C1455.2,860.0 1460.1,863.6 1461.6,864.4C1462.9,865.1 1468.0,866.4 1469.2,867.2C1471.4,868.7 1478.3,875.2 1480.5,876.7C1481.8,877.6 1486.8,879.6 1488.1,880.4C1490.6,881.9 1499.1,887.1 1501.3,888.9C1503.2,890.4 1509.0,896.7 1510.7,898.4C1512.1,899.8 1517.1,904.4 1518.3,906.0C1519.9,908.1 1525.1,916.0 1526.2,918.5C1527.5,921.5 1530.2,932.6 1531.1,935.8C1531.6,937.4 1532.8,943.6 1533.6,944.4C1534.0,944.8 1536.7,943.0 1537.3,942.5C1538.8,941.2 1543.7,933.7 1544.7,934.5C1547.1,936.5 1554.2,953.5 1555.8,958.0C1556.7,960.6 1557.2,970.4 1558.2,972.7C1558.6,973.6 1562.2,975.5 1563.2,975.8C1564.9,976.3 1571.8,976.1 1573.0,977.1C1574.2,978.1 1576.2,984.5 1576.7,986.3C1577.8,990.8 1580.8,1006.5 1581.7,1011.0C1582.4,1014.4 1584.6,1026.1 1585.4,1029.5C1586.1,1032.5 1589.0,1045.1 1590.3,1045.5C1591.4,1045.9 1597.3,1033.6 1598.3,1033.8C1599.3,1034.0 1601.0,1045.4 1601.4,1048.0C1602.0,1052.5 1603.4,1068.1 1603.8,1072.6C1604.2,1077.3 1605.5,1093.8 1606.0,1098.5C1606.3,1101.4 1607.5,1112.6 1608.4,1114.5C1608.7,1115.1 1612.1,1111.8 1612.7,1112.0C1613.4,1112.2 1615.6,1116.0 1615.8,1117.0C1616.4,1119.8 1616.8,1132.6 1617.1,1133.0C1617.3,1133.3 1618.3,1122.7 1618.9,1120.7C1619.0,1120.2 1621.1,1119.2 1621.4,1119.5C1622.3,1120.4 1624.4,1126.6 1625.1,1126.9C1625.6,1127.1 1628.0,1122.9 1628.2,1121.9C1628.9,1118.9 1629.9,1107.9 1630.0,1104.7C1630.1,1100.2 1628.4,1084.3 1629.1,1080.0C1629.5,1077.9 1635.0,1072.2 1635.9,1070.2C1636.8,1068.1 1638.5,1057.2 1639.0,1057.8C1639.8,1058.8 1642.8,1074.9 1643.3,1078.8C1644.1,1084.6 1645.6,1104.9 1646.0,1110.8C1646.4,1116.5 1647.1,1136.0 1647.3,1141.7C1647.5,1146.4 1648.1,1166.0 1648.5,1167.5C1648.7,1168.3 1650.6,1156.5 1651.0,1154.0C1651.5,1150.6 1653.0,1138.9 1653.4,1135.5C1653.8,1132.1 1655.5,1120.4 1655.9,1117.0C1656.4,1112.5 1658.1,1096.8 1658.4,1092.3C1658.6,1088.7 1658.6,1076.2 1658.7,1072.6C1658.8,1069.0 1659.1,1056.1 1660.0,1052.9C1660.3,1051.8 1665.0,1050.2 1665.5,1049.2C1666.3,1047.7 1667.2,1041.1 1667.3,1039.3C1667.6,1034.1 1667.6,1016.2 1668.0,1011.0C1668.3,1006.5 1670.5,990.8 1671.0,986.3C1671.5,981.8 1673.1,966.2 1673.5,961.7C1673.9,957.2 1674.8,941.5 1675.4,937.0C1675.7,934.7 1678.1,926.9 1678.7,924.7C1679.2,922.9 1681.3,916.6 1681.8,914.8C1682.7,911.3 1685.2,898.9 1685.9,895.3C1686.7,891.2 1689.5,877.2 1690.3,873.1C1691.1,869.1 1693.5,855.1 1694.2,851.0C1694.9,846.9 1697.4,832.9 1698.1,828.8C1698.8,824.7 1701.2,810.7 1702.0,806.6C1702.8,802.5 1706.0,788.5 1707.0,784.4C1708.0,780.3 1711.4,766.2 1712.5,762.2C1713.5,758.5 1717.5,745.7 1718.5,742.0C1719.0,740.2 1720.4,733.9 1720.9,732.1C1721.5,730.0 1723.9,722.6 1725.0,720.8C1725.7,719.7 1729.5,716.9 1730.7,716.5C1733.2,715.6 1742.3,713.7 1745.0,713.5C1755.0,712.9 1789.9,712.5 1800.0,712.4C1818.7,712.2 1883.3,712.2 1902.0,712.2"/>
<path stroke="#FF0000" d="M249.0,712.2C295.0,712.3 454.0,712.6 500.0,712.8C549.5,713.0 720.5,713.7 770.0,714.0C792.9,714.1 872.1,714.9 895.0,715.2C917.9,715.5 997.1,716.4 1020.0,717.0C1043.0,717.6 1122.6,720.3 1145.6,721.5C1164.8,722.5 1230.9,727.5 1250.0,728.7C1260.4,729.3 1296.4,730.2 1306.7,731.2C1317.1,732.2 1353.2,737.5 1363.4,739.7C1372.2,741.6 1402.1,750.8 1410.6,753.9C1416.0,755.8 1434.0,764.2 1438.9,767.1C1444.4,770.3 1462.5,782.8 1467.3,786.9C1472.9,791.6 1491.1,809.6 1495.6,815.3C1499.8,820.6 1511.4,841.3 1514.5,847.4C1517.6,853.5 1526.9,875.1 1529.6,881.4C1531.1,884.8 1536.0,896.5 1537.3,900.0C1538.5,903.3 1542.4,915.1 1543.4,918.5C1544.3,921.8 1547.0,933.6 1547.7,937.0C1548.4,940.4 1550.2,952.1 1550.8,955.5C1551.1,957.5 1551.6,965.2 1552.7,966.6C1553.6,967.7 1560.8,968.0 1561.9,969.1C1563.2,970.5 1565.1,978.0 1565.6,980.1C1566.4,983.4 1568.2,995.2 1568.7,998.6C1569.1,1001.1 1569.7,1010.1 1570.6,1012.2C1571.0,1013.0 1575.0,1013.9 1575.5,1014.7C1576.6,1016.4 1578.7,1023.7 1579.2,1025.8C1579.9,1028.7 1581.8,1038.9 1582.3,1041.8C1582.8,1045.2 1584.3,1056.9 1584.7,1060.3C1585.1,1063.7 1586.4,1075.4 1586.6,1078.8C1586.9,1083.5 1587.2,1100.0 1587.5,1104.7C1587.7,1109.2 1588.8,1124.8 1589.3,1129.3C1589.5,1131.3 1591.1,1139.0 1591.8,1139.8C1592.1,1140.2 1594.8,1136.9 1595.0,1136.0C1596.6,1129.1 1600.3,1099.6 1601.7,1097.3C1602.4,1096.1 1605.9,1113.4 1606.6,1117.0C1607.5,1121.5 1609.6,1137.2 1610.3,1141.7C1611.0,1146.2 1613.1,1161.8 1614.0,1166.3C1614.3,1167.7 1616.0,1174.2 1616.4,1173.7C1617.3,1172.4 1620.4,1156.9 1621.4,1156.4C1622.2,1156.0 1625.6,1166.5 1626.3,1168.8C1627.4,1172.1 1629.8,1184.2 1631.2,1187.3C1631.6,1188.3 1635.7,1190.1 1636.2,1191.0C1637.0,1192.5 1638.0,1199.0 1638.6,1200.8C1639.1,1202.4 1641.8,1207.8 1642.3,1209.5C1642.9,1211.7 1643.9,1219.9 1644.8,1221.8C1645.1,1222.4 1648.0,1222.5 1648.5,1223.0C1649.6,1224.0 1652.4,1229.5 1653.4,1229.8C1654.2,1230.0 1657.7,1226.5 1658.4,1225.5C1659.5,1223.9 1662.6,1217.5 1663.3,1215.6C1664.4,1212.3 1667.4,1200.5 1668.2,1197.1C1669.0,1193.7 1671.9,1182.0 1672.5,1178.6C1673.3,1174.1 1675.5,1158.5 1676.2,1154.0C1676.9,1149.5 1679.2,1133.8 1679.9,1129.3C1680.6,1124.8 1682.9,1109.2 1683.6,1104.7C1684.3,1100.2 1686.8,1084.6 1687.3,1080.0C1688.1,1071.9 1690.1,1043.7 1690.8,1035.6C1691.2,1031.1 1692.8,1015.5 1693.2,1011.0C1693.7,1006.5 1695.3,990.8 1695.7,986.3C1696.1,981.8 1697.2,966.2 1697.5,961.7C1697.9,956.0 1699.0,936.5 1699.4,930.8C1699.8,925.1 1701.3,905.6 1701.9,900.0C1702.4,895.0 1704.9,878.0 1705.5,873.0C1706.0,869.0 1707.5,855.0 1708.0,851.0C1708.5,846.9 1710.0,832.9 1710.5,828.8C1711.0,824.7 1712.5,810.7 1713.0,806.6C1713.5,802.5 1715.0,788.5 1715.5,784.4C1716.1,780.3 1718.3,766.3 1719.0,762.2C1719.7,758.1 1721.9,743.9 1723.1,740.0C1723.6,738.4 1727.2,733.5 1728.0,732.0C1729.0,730.0 1731.5,722.4 1733.0,721.0C1734.6,719.5 1742.7,717.0 1745.0,716.5C1748.6,715.7 1761.3,714.0 1765.0,713.7C1771.4,713.2 1793.6,712.6 1800.0,712.5C1818.7,712.3 1883.3,712.3 1902.0,712.3"/>
<path stroke="#2035FF" d="M249.0,712.0C295.0,712.1 454.0,712.2 500.0,712.3C549.5,712.4 720.5,713.1 770.0,713.2C792.9,713.3 872.1,713.2 895.0,713.3C917.9,713.4 997.1,714.2 1020.0,714.6C1043.0,715.0 1122.6,716.8 1145.6,717.6C1159.4,718.1 1206.9,720.6 1220.7,721.3C1226.1,721.6 1244.6,722.7 1250.0,723.1C1260.4,723.9 1296.3,726.8 1306.7,728.0C1317.1,729.2 1353.1,733.9 1363.4,735.9C1372.2,737.6 1402.1,745.5 1410.6,748.2C1415.9,749.9 1433.9,757.1 1438.9,759.5C1444.3,762.1 1462.5,772.1 1467.3,775.6C1472.9,779.7 1491.1,795.9 1495.6,801.1C1499.7,805.9 1511.4,824.8 1514.5,830.4C1518.4,837.4 1530.0,862.7 1533.4,870.0C1535.9,875.5 1544.2,894.5 1546.5,900.0C1547.9,903.3 1552.2,915.1 1553.3,918.5C1554.4,921.8 1557.3,933.6 1558.2,937.0C1558.8,939.3 1560.6,947.1 1561.3,949.3C1561.7,950.5 1564.0,954.3 1564.4,955.5C1565.2,957.9 1567.0,966.5 1567.5,969.0C1568.1,971.7 1569.9,981.1 1570.6,983.8C1571.3,986.6 1574.6,995.9 1575.5,998.6C1576.4,1001.3 1579.6,1010.6 1580.4,1013.4C1581.2,1016.3 1583.5,1026.5 1584.1,1029.5C1584.8,1032.9 1586.5,1044.6 1587.2,1048.0C1587.8,1051.0 1590.9,1061.0 1591.5,1064.0C1592.1,1066.9 1593.1,1077.1 1593.6,1080.0C1594.2,1083.4 1597.4,1095.1 1598.0,1098.5C1598.6,1101.9 1600.0,1113.6 1600.4,1117.0C1600.9,1121.5 1602.3,1137.2 1602.9,1141.7C1603.4,1145.1 1606.0,1156.7 1606.6,1160.1C1607.2,1163.5 1608.5,1175.2 1609.0,1178.6C1609.4,1181.2 1610.3,1192.0 1611.0,1193.0C1611.4,1193.5 1614.6,1186.4 1615.0,1187.0C1616.0,1188.3 1617.9,1203.1 1618.5,1203.0C1619.2,1202.9 1621.3,1186.5 1622.0,1186.0C1622.5,1185.6 1624.4,1195.8 1625.0,1198.0C1625.6,1200.1 1628.3,1207.3 1628.8,1209.5C1629.4,1212.2 1630.6,1221.6 1631.2,1224.3C1631.7,1226.6 1634.1,1234.4 1634.9,1236.6C1635.5,1238.2 1638.0,1243.6 1638.6,1245.2C1639.1,1246.6 1640.5,1252.9 1641.0,1253.0C1641.5,1253.1 1643.5,1246.4 1644.0,1246.5C1644.5,1246.6 1645.9,1252.7 1646.5,1254.0C1647.2,1255.4 1650.0,1260.1 1651.0,1261.3C1651.8,1262.3 1654.9,1265.4 1655.9,1266.2C1656.5,1266.7 1658.9,1268.1 1659.6,1268.0C1660.5,1267.9 1663.9,1265.8 1664.5,1265.0C1665.5,1263.5 1667.7,1257.0 1668.2,1255.1C1668.9,1252.4 1670.8,1243.0 1671.3,1240.3C1671.9,1236.9 1674.0,1225.2 1674.4,1221.8C1675.0,1217.3 1676.4,1201.6 1676.9,1197.1C1677.5,1191.4 1679.9,1171.9 1680.6,1166.3C1681.3,1160.7 1683.6,1141.1 1684.3,1135.5C1685.0,1129.9 1687.3,1110.3 1688.0,1104.7C1688.6,1100.2 1690.6,1084.5 1691.1,1080.0C1692.0,1071.9 1694.9,1043.7 1695.7,1035.6C1696.2,1031.1 1697.8,1015.5 1698.2,1011.0C1698.6,1006.5 1699.8,990.8 1700.1,986.3C1700.4,981.8 1701.5,966.2 1701.9,961.7C1702.5,956.0 1705.1,936.5 1705.6,930.8C1706.0,925.2 1706.4,905.6 1706.8,900.0C1707.2,895.1 1709.4,878.0 1709.9,873.1C1710.3,869.1 1711.2,855.0 1711.6,851.0C1712.0,846.9 1713.4,832.9 1713.8,828.8C1714.2,824.7 1715.6,810.7 1716.0,806.6C1716.4,802.5 1717.7,788.5 1718.2,784.4C1718.7,780.3 1720.9,766.3 1721.6,762.2C1722.3,758.1 1724.9,744.0 1726.0,740.0C1726.4,738.4 1729.2,733.5 1730.0,732.1C1731.1,730.0 1734.7,722.3 1736.4,720.8C1738.0,719.4 1745.6,717.0 1747.7,716.5C1751.3,715.7 1763.8,714.0 1767.5,713.7C1773.4,713.2 1794.0,712.4 1800.0,712.3C1818.7,712.1 1883.3,712.1 1902.0,712.1"/>
</g>
<line x1="249.0" y1="130.0" x2="1924" y2="130.0" stroke="#800000" stroke-width="6" stroke-dasharray="13 9.17" shape-rendering="crispEdges"/>
<g font-family="'Liberation Serif', serif" font-size="59.0" fill="#000" stroke="#000" stroke-width="0.6" stroke-linejoin="round" style="font-kerning:none" letter-spacing="-0.4">
<text x="205.6" y="1342.8" text-anchor="end">-100</text>
<text x="205.6" y="1189.3" text-anchor="end">-75</text>
<text x="205.6" y="1035.9" text-anchor="end">-50</text>
<text x="205.6" y="882.4" text-anchor="end">-25</text>
<text x="205.6" y="729.0" text-anchor="end">0</text>
<text x="205.6" y="575.5" text-anchor="end">25</text>
<text x="205.6" y="422.0" text-anchor="end">50</text>
<text x="205.6" y="268.6" text-anchor="end">75</text>
<text x="205.6" y="115.1" text-anchor="end">100</text>
<text x="1955.4" y="1404.7" text-anchor="start">-3</text>
<text x="1955.4" y="1179.6" text-anchor="start">-2</text>
<text x="1955.4" y="954.5" text-anchor="start">-1</text>
<text x="1955.4" y="729.4" text-anchor="start">0</text>
<text x="1955.4" y="504.3" text-anchor="start">1</text>
<text x="1955.4" y="279.2" text-anchor="start">2</text>
<text x="1955.4" y="54.1" text-anchor="start">3</text>
<text x="437.5" y="1476.3" text-anchor="middle">100</text>
<text x="810.0" y="1476.3" text-anchor="middle">200</text>
<text x="1182.6" y="1476.3" text-anchor="middle">300</text>
<text x="1555.1" y="1476.3" text-anchor="middle">400</text>
<text x="1927.7" y="1476.3" text-anchor="middle">500</text>
</g>
<g stroke-width="6" stroke-linecap="round" fill="none">
<line x1="341" y1="1253" x2="470.4" y2="1253" stroke="#515151"/>
<line x1="698" y1="1253" x2="827.2" y2="1253" stroke="#F14040"/>
<line x1="1060" y1="1253" x2="1188.7" y2="1253" stroke="#1A6FDF"/>
</g>
<g font-family="'Liberation Serif', serif" fill="#000" stroke="#000" stroke-width="0.6" stroke-linejoin="round" style="font-kerning:none">
<text x="845.0" y="1583.7" font-size="70.9" textLength="488.48" lengthAdjust="spacing">Temperature (°C)</text>
<text transform="translate(70.8,874.9) rotate(-90)" font-size="71.4" textLength="329.6" lengthAdjust="spacing">Weight (%)</text>
<text transform="translate(2080.0,1020.9) rotate(-90)" font-size="71.4" textLength="620.11" lengthAdjust="spacing">Deriv.weight (% / °C)</text>
<text x="484.3" y="1272.0" font-size="58.0" textLength="214.38" lengthAdjust="spacing">T-mPAO</text>
<text x="841.7" y="1272.0" font-size="58.0" textLength="219.54" lengthAdjust="spacing">A-mPAO</text>
<text x="1203.0" y="1272.0" font-size="58.0" textLength="160.2" lengthAdjust="spacing">mPAO</text>
</g>
</svg>
</body></html>
